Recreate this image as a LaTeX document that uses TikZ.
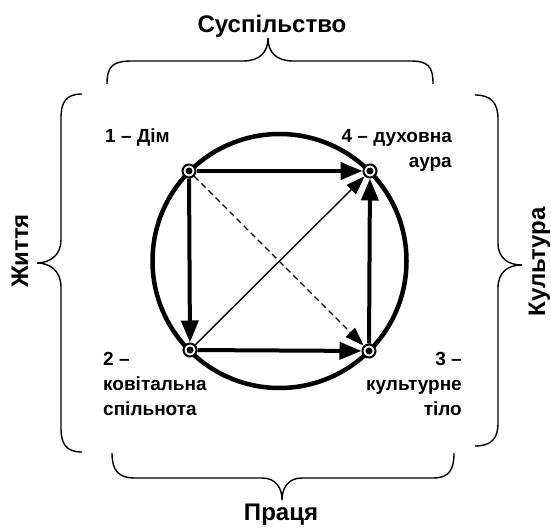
\documentclass[tikz,border=0pt]{standalone}
\usepackage{fontspec}
\setmainfont{Liberation Sans}
\usetikzlibrary{arrows.meta}
\begin{document}
\begin{tikzpicture}[x=1pt,y=-1pt,
  lbl/.style={font=\bfseries\fontsize{19}{25}\selectfont, inner sep=0pt},
  big/.style={font=\bfseries\fontsize{24}{28}\selectfont, inner sep=0pt},
  pnt/.style={circle, draw, line width=2pt, fill=white, minimum size=13pt, inner sep=0pt},
  thickarrow/.style={line width=4pt, -{Triangle[length=22pt,width=17pt]}},
  thinarrow/.style={line width=1.4pt, -{Triangle[length=19pt,width=13pt]}},
  bracepath/.style={line width=1.4pt}]
\useasboundingbox (0,0) rectangle (551,529);
% big circle
\draw[line width=4.5pt] (279.5,261) circle (127pt);
% points
\node[pnt] (n1) at (189,171) {};
\node[pnt] (n4) at (370,171) {};
\node[pnt] (n2) at (190,350) {};
\node[pnt] (n3) at (369,351) {};
\foreach \n in {n1,n2,n3,n4} \fill (\n.center) circle (3.5pt);
% arrows
\draw[thickarrow] (n1) -- (n4);
\draw[thickarrow] (n1) -- (n2);
\draw[thickarrow] (n2) -- (n3);
\draw[thickarrow] (n3) -- (n4);
\draw[thinarrow] (n2) -- (n4);
\draw[thinarrow, dash pattern=on 6pt off 4pt] (n1) -- (n3);
% braces
\draw[bracepath] (107,84) .. controls (107,66) and (113,61) .. (132,61) -- (243,61)
  .. controls (260,61) and (268,52) .. (268,38)
  .. controls (268,52) and (276,61) .. (293,61) -- (410,61)
  .. controls (428,61) and (433,66) .. (433,84);
\draw[bracepath] (82,94) .. controls (66,94) and (61,102) .. (61,118) -- (61,240)
  .. controls (61,255) and (50,263) .. (37,263)
  .. controls (50,263) and (61,271) .. (61,287) -- (61,428)
  .. controls (61,444) and (66,452) .. (82,452);
\draw[bracepath] (475,95) .. controls (491,95) and (498,103) .. (498,119) -- (498,243)
  .. controls (498,258) and (508,265) .. (522,265)
  .. controls (508,265) and (498,272) .. (498,288) -- (498,423)
  .. controls (498,439) and (491,446) .. (475,446);
\draw[bracepath] (112,453) .. controls (112,470) and (118,478) .. (135,478) -- (262,478)
  .. controls (276,478) and (282,488) .. (282,500)
  .. controls (282,488) and (288,478) .. (302,478) -- (433,478)
  .. controls (449,478) and (454,470) .. (454,453);
% outer labels
\node[big, anchor=base] (soc) at (272,33) {Суспільство};
\node[big, anchor=base] (work) at (281,520) {Праця};
\node[big, anchor=base, rotate=90] (life) at (28,251) {Життя};
\node[big, anchor=base, rotate=90] (cult) at (545,262) {Культура};
% point labels
\node[lbl, anchor=base east] (l1) at (170,143) {1 – Дім};
\node[lbl, anchor=base east] (l4a) at (452,143) {4 – духовна};
\node[lbl, anchor=base east] (l4b) at (452,168) {аура};
\node[lbl, anchor=base west] (l2a) at (103,365) {2 –};
\node[lbl, anchor=base west] (l2b) at (103,390) {ковітальна};
\node[lbl, anchor=base west] (l2c) at (103,415) {спільнота};
\node[lbl, anchor=base east] (l3a) at (462,365) {3 –};
\node[lbl, anchor=base east] (l3b) at (462,390) {культурне};
\node[lbl, anchor=base east] (l3c) at (462,415) {тіло};
\end{tikzpicture}
\end{document}
